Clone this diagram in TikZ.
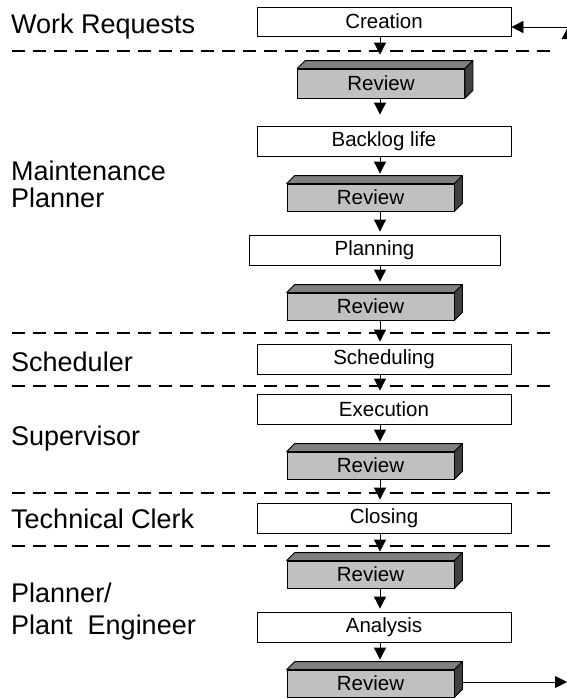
\documentclass[tikz,border=0pt]{standalone}
\usepackage{fontspec}
\setmainfont{Liberation Sans}
\usetikzlibrary{arrows.meta}
\definecolor{frontgray}{HTML}{C0C0C0}
\definecolor{topgray}{HTML}{808080}
\definecolor{sidegray}{HTML}{404040}
\newcommand\revfaces[1]{%
  \filldraw[fill=topgray, line width=0.8pt, line join=round] (#1.north west) -- ++(8,-8) -- ([shift={(8,-8)}]#1.north east) -- (#1.north east) -- cycle;
  \filldraw[fill=sidegray, line width=0.8pt, line join=round] (#1.north east) -- ++(8,-8) -- ([shift={(8,-8)}]#1.south east) -- (#1.south east) -- cycle;
}
\begin{document}
\begin{tikzpicture}[x=1pt,y=-1pt,
  lbl/.style={anchor=base west, inner sep=0pt, font=\fontsize{27}{27}\selectfont},
  wbox/.style={draw, line width=0.8pt, fill=white, minimum width=254pt, minimum height=30pt, inner sep=0pt, font=\fontsize{20.5}{20.5}\selectfont},
  rbox/.style={draw, line width=0.8pt, fill=frontgray, minimum width=167pt, minimum height=27pt, inner sep=0pt, font=\fontsize{20.5}{20.5}\selectfont},
  arr/.style={-{Triangle[length=12pt,width=12pt]}, line width=0.8pt},
  sepline/.style={line width=2.6pt, dash pattern=on 13pt off 8pt}
]
\useasboundingbox (0,0) rectangle (567,699);
\clip (0,0) rectangle (567,699);

% lane separators
\foreach \yy in {51,333,386,493,546} \draw[sepline] (12,\yy) -- (552,\yy);

% lane labels
\node[lbl] (lwr) at (11,33) {Work Requests};
\node[lbl] (lmp1) at (11,180) {Maintenance};
\node[lbl] (lmp2) at (11,207) {Planner};
\node[lbl] (lsch) at (11,371) {Scheduler};
\node[lbl] (lsup) at (11,445) {Supervisor};
\node[lbl] (ltc) at (11,528) {Technical Clerk};
\node[lbl] (lpe1) at (11,602) {Planner/};
\node[lbl] (lpe2) at (11,634) {Plant\ \ Engineer};

% process boxes
\node[wbox, minimum height=29pt] (creation) at (384,21.5) {Creation};
\node[rbox, minimum height=29pt] (r1) at (381,83.5) {Review};
\node[wbox] (backlog) at (384,141) {Backlog life};
\node[rbox] (r2) at (370.5,197.5) {Review};
\node[wbox, minimum width=251pt] (planning) at (374.5,250) {Planning};
\node[rbox] (r3) at (370.5,306.5) {Review};
\node[wbox] (scheduling) at (384,359) {Scheduling};
\node[wbox] (execution) at (384,409) {Execution};
\node[rbox] (r4) at (370.5,465.5) {Review};
\node[wbox] (closing) at (384,518) {Closing};
\node[rbox] (r5) at (370.5,574.5) {Review};
\node[wbox] (analysis) at (384,627) {Analysis};
\node[rbox] (r6) at (370.5,683.5) {Review};

\revfaces{r1}
\revfaces{r2}
\revfaces{r3}
\revfaces{r4}
\revfaces{r5}
\revfaces{r6}

% connectors
\coordinate (spine) at (380,0);
\draw[arr, shorten >=14pt] (creation.south -| spine) -- (r1.north -| spine);
\draw[arr, shorten >=11pt] (r1.south -| spine) -- (backlog.north -| spine);
\draw[arr, shorten >=10pt] (backlog.south -| spine) -- (r2.north -| spine);
\draw[arr, shorten >=3pt] (r2.south -| spine) -- (planning.north -| spine);
\draw[arr, shorten >=11pt] (planning.south -| spine) -- (r3.north -| spine);
\draw[arr, shorten >=2pt] (r3.south -| spine) -- (scheduling.north -| spine);
\draw[arr, shorten >=3pt] (scheduling.south -| spine) -- (execution.north -| spine);
\draw[arr, shorten >=10pt] (execution.south -| spine) -- (r4.north -| spine);
\draw[arr, shorten >=3pt] (r4.south -| spine) -- (closing.north -| spine);
\draw[arr, shorten >=9pt] (closing.south -| spine) -- (r5.north -| spine);
\draw[arr, shorten >=3pt] (r5.south -| spine) -- (analysis.north -| spine);
\draw[arr, shorten >=10pt] (analysis.south -| spine) -- (r6.north -| spine);

% incoming and outgoing arrows
\coordinate (inR) at (567,27);
\draw[arr] (inR) -- (creation.east |- inR);
\fill (561.5,39) -- (567,29) -- (572.5,39) -- cycle;
\coordinate (outR) at (567,682);
\draw[arr] ([xshift=8pt]r6.east |- outR) -- (outR);
\end{tikzpicture}
\end{document}
